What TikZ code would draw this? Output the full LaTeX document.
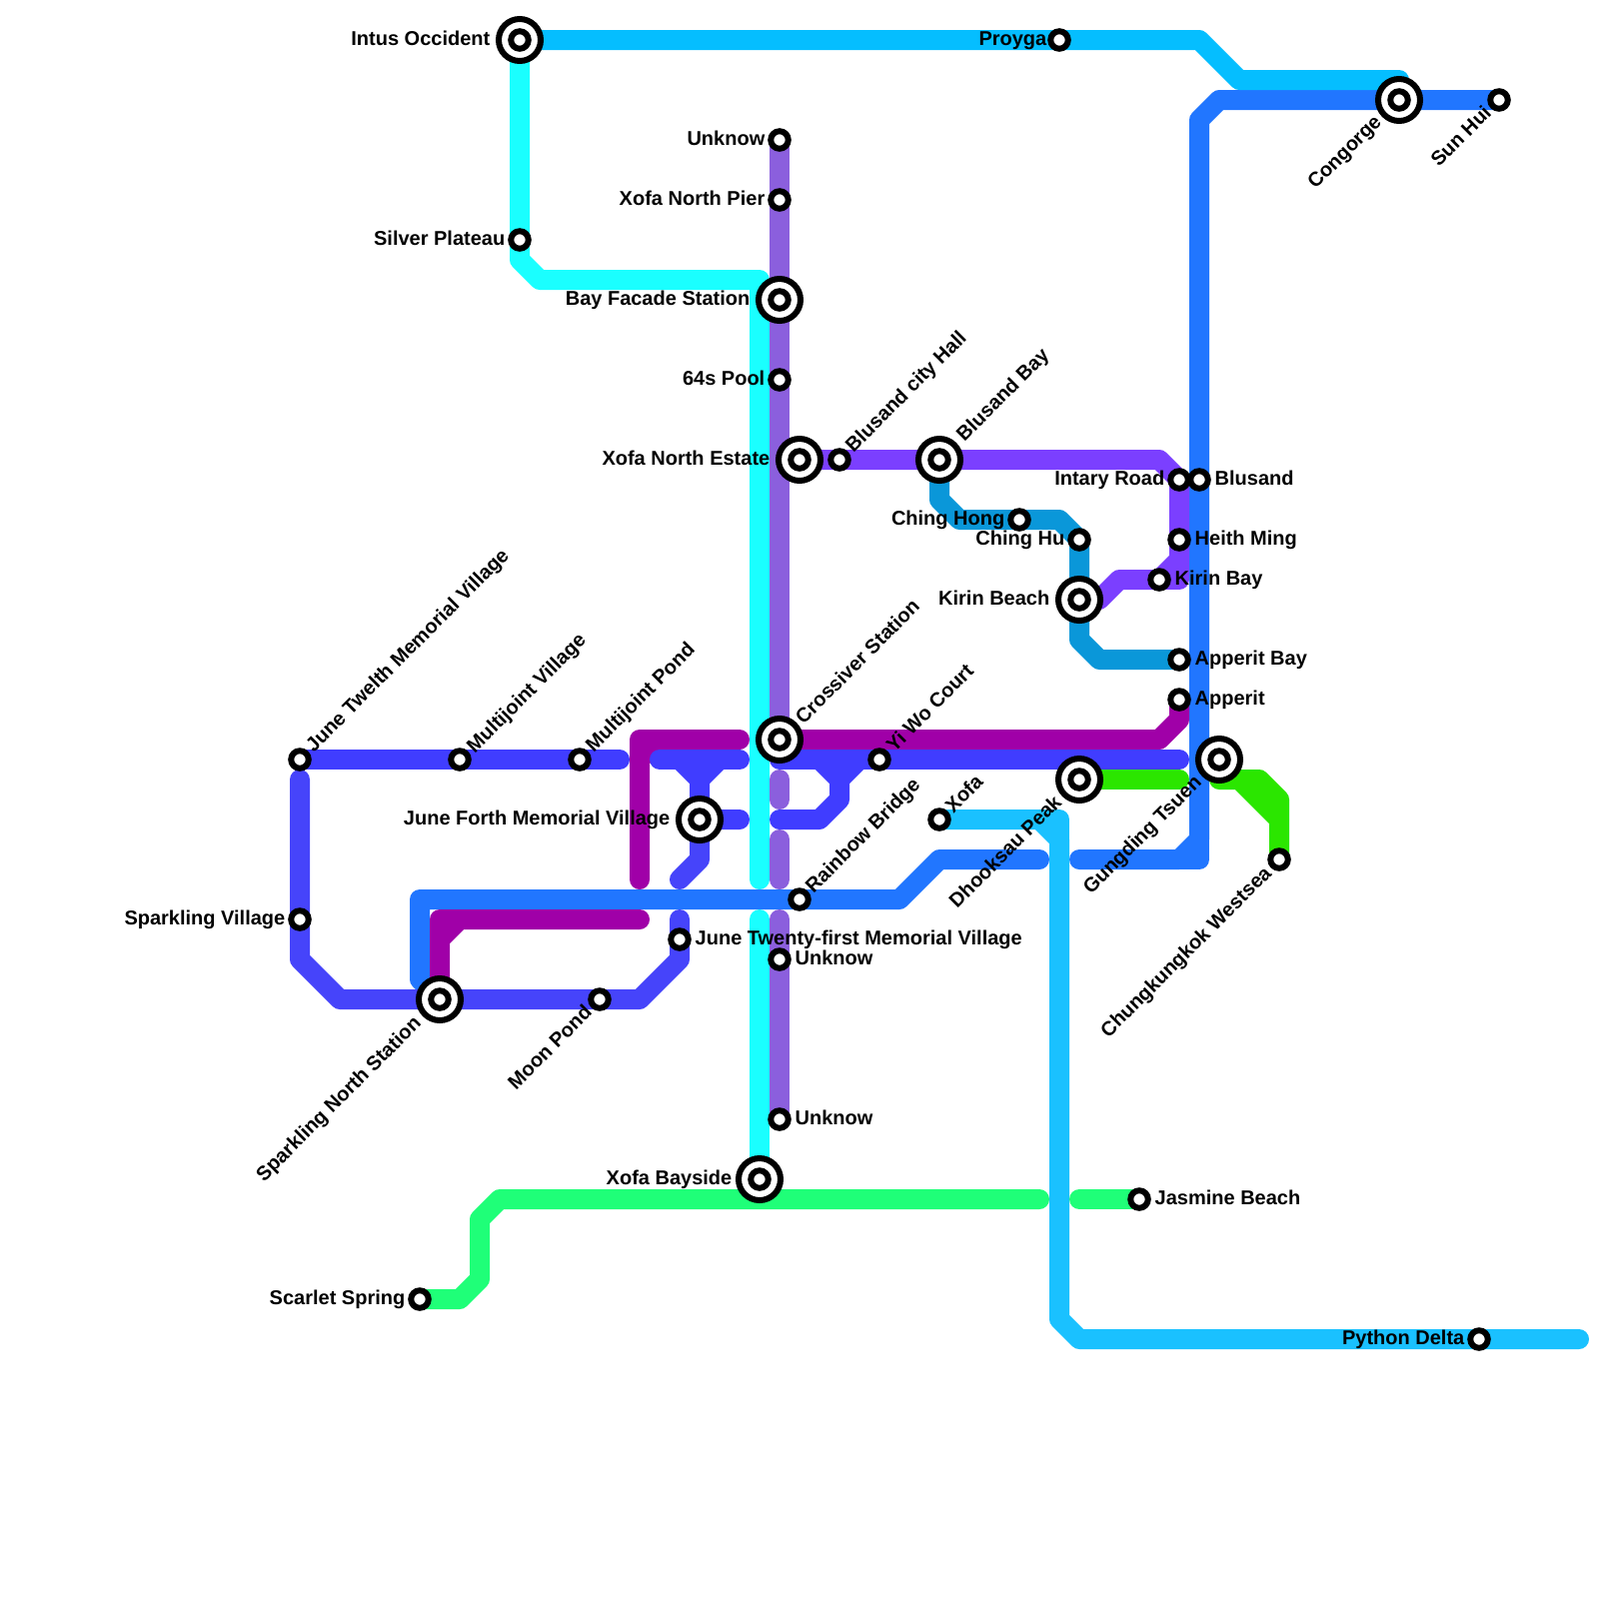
\documentclass[tikz,border=0pt]{standalone}
\usepackage{fontspec}
\setmainfont{Liberation Sans}
\usetikzlibrary{calc}
\pgfdeclarelayer{lines}
\pgfsetlayers{lines,main}
\definecolor{skyline}{HTML}{05BEFF}
\definecolor{cyanline}{HTML}{1AFFFF}
\definecolor{purpleline}{HTML}{8B5FDD}
\definecolor{violetline}{HTML}{7B3FFF}
\definecolor{blueline}{HTML}{2176FF}
\definecolor{indigoline}{HTML}{403DFF}
\definecolor{indigotwo}{HTML}{4644FA}
\definecolor{magentaline}{HTML}{A000A8}
\definecolor{tealline}{HTML}{0A97D9}
\definecolor{greenline}{HTML}{2BE600}
\definecolor{springline}{HTML}{1FFF78}
\definecolor{azureline}{HTML}{1AC1FF}

\begin{document}
\begin{tikzpicture}[
  x=.1mm, y=-.1mm,
  font=\fontsize{5.69}{7}\selectfont\bfseries,
  route/.style={line width=2mm, line cap=round, line join=round},
  stop/.style={circle, draw=black, fill=white, line width=.6mm, minimum size=1.75mm, inner sep=0pt},
  hub/.style={circle, draw=black, fill=white, line width=.6mm, minimum size=4.2mm, inner sep=0pt, label={[stop]center:}},
  lbl/.style={inner sep=0pt, text height=1.45mm, text depth=.4mm},
  lleft/.style={lbl, anchor=east},
  lright/.style={lbl, anchor=west},
  lup/.style={lbl, anchor=west, rotate=45},
  ldown/.style={lbl, anchor=east, rotate=45}
]
\useasboundingbox (0,0) rectangle (1600,1600);

% Stations
\node[hub] (intus) at (520,40) {};
\node[stop] (proyga) at (1060,40) {};
\node[stop] (unknowA) at (780,140) {};
\node[stop] (northPier) at (780,200) {};
\node[stop] (silver) at (520,240) {};
\node[hub] (bayFacade) at (780,300) {};
\node[stop] (pool) at (780,380) {};
\node[hub] (northEstate) at (800,460) {};
\node[stop] (cityHall) at (840,460) {};
\node[hub] (blusandBay) at (940,460) {};
\node[stop] (intary) at (1180,480) {};
\node[stop] (blusand) at (1200,480) {};
\node[stop] (chingHong) at (1020,520) {};
\node[stop] (chingHu) at (1080,540) {};
\node[stop] (heith) at (1180,540) {};
\node[stop] (kirinBay) at (1160,580) {};
\node[hub] (kirinBeach) at (1080,600) {};
\node[stop] (apperitBay) at (1180,660) {};
\node[stop] (apperit) at (1180,700) {};
\node[hub] (crossiver) at (780,740) {};
\node[stop] (juneTwelth) at (300,760) {};
\node[stop] (multiVillage) at (460,760) {};
\node[stop] (multiPond) at (580,760) {};
\node[stop] (yiWo) at (880,760) {};
\node[hub] (gungding) at (1220,760) {};
\node[hub] (dhooksau) at (1080,780) {};
\node[hub] (juneForth) at (700,820) {};
\node[stop] (xofa) at (940,820) {};
\node[stop] (westsea) at (1280,860) {};
\node[stop] (rainbow) at (800,900) {};
\node[stop] (sparkling) at (300,920) {};
\node[stop] (juneTwenty) at (680,940) {};
\node[stop] (unknowB) at (780,960) {};
\node[hub] (sparklingNorth) at (440,1000) {};
\node[stop] (moonPond) at (600,1000) {};
\node[stop] (unknowC) at (780,1120) {};
\node[hub] (bayside) at (760,1180) {};
\node[stop] (jasmine) at (1140,1200) {};
\node[stop] (scarlet) at (420,1300) {};
\node[stop] (python) at (1480,1340) {};
\node[hub] (congorge) at (1400,100) {};
\node[stop] (sunHui) at (1500,100) {};

% Free line ends
\coordinate (cyanA) at (760,880);
\coordinate (cyanB) at (760,920);
\coordinate (purpleA) at (780,780);
\coordinate (purpleB) at (780,800);
\coordinate (purpleC) at (780,840);
\coordinate (purpleD) at (780,880);
\coordinate (purpleE) at (780,920);
\coordinate (blueA) at (1080,860);
\coordinate (blueB) at (1040,860);
\coordinate (magentaA) at (740,740);
\coordinate (magentaB) at (640,880);
\coordinate (magentaC) at (640,920);
\coordinate (indigoA) at (620,760);
\coordinate (indigoB) at (300,780);
\coordinate (indigoC) at (680,920);
\coordinate (indigoD) at (680,880);
\coordinate (indigoE) at (660,760);
\coordinate (indigoF) at (740,760);
\coordinate (indigoG) at (740,820);
\coordinate (indigoH) at (780,820);
\coordinate (indigoI) at (780,760);
\coordinate (indigoJ) at (1180,760);
\coordinate (greenA) at (1180,780);
\coordinate (greenB) at (1220,780);
\coordinate (azureEnd) at (1580,1340);
\coordinate (springA) at (1040,1200);
\coordinate (springB) at (1080,1200);

% Lines
\begin{pgfonlayer}{lines}
\draw[route, blueline] (sunHui.center) -- (1220,100) -- (1200,120) -- (1200,840) -- (1180,860) -- (blueA);
\draw[route, blueline] (1200,840) -- (1200,860) -- (1180,860);
\draw[route, blueline] (blueB) -- (940,860) -- (900,900) -- (420,900) -- (420,980) -- (sparklingNorth.center);
\draw[route, skyline] (intus.center) -- (1200,40) -- (1240,80) -- (1400,80) -- (congorge.center);
\draw[route, cyanline] (intus.center) -- (520,260) -- (540,280) -- (760,280) -- (cyanA);
\draw[route, cyanline] (cyanB) -- (bayside.center);
\draw[route, purpleline] (unknowA.center) -- (crossiver.center);
\draw[route, purpleline] (purpleA) -- (purpleB);
\draw[route, purpleline] (purpleC) -- (purpleD);
\draw[route, purpleline] (purpleE) -- (unknowC.center);
\draw[route, violetline] (northEstate.center) -- (1160,460) -- (1180,480) -- (1180,560) -- (kirinBay.center) -- (1120,580) -- (1100,600) -- (kirinBeach.center);
\draw[route, violetline] (1180,560) -- (1180,580) -- (kirinBay.center);
\draw[route, tealline] (blusandBay.center) -- (940,500) -- (960,520) -- (1060,520) -- (chingHu.center) -- (1080,640) -- (1100,660) -- (apperitBay.center);
\draw[route, magentaline] (crossiver.center) -- (1160,740) -- (1180,720) -- (apperit.center);
\draw[route, magentaline] (magentaA) -- (660,740) -- (640,760) -- (magentaB);
\draw[route, magentaline] (660,740) -- (640,740) -- (640,760);
\draw[route, magentaline] (magentaC) -- (460,920) -- (440,940) -- (sparklingNorth.center);
\draw[route, magentaline] (460,920) -- (440,920) -- (440,940);
\draw[route, indigoline] (juneTwelth.center) -- (indigoA);
\draw[route, indigotwo] (indigoB) -- (300,960) -- (340,1000) -- (640,1000) -- (680,960) -- (indigoC);
\draw[route, indigotwo] (indigoD) -- (700,860) -- (juneForth.center);
\draw[route, indigoline] (indigoE) -- (indigoF);
\draw[route, indigoline] (680,760) -- (700,780) -- (juneForth.center) -- (indigoG);
\draw[route, indigoline] (720,760) -- (700,780);
\draw[route, indigoline] (indigoI) -- (indigoJ);
\draw[route, indigoline] (820,760) -- (840,780) -- (840,800) -- (820,820) -- (indigoH);
\draw[route, indigoline] (860,760) -- (840,780);
\draw[route, greenline] (dhooksau.center) -- (greenA);
\draw[route, greenline] (greenB) -- (1240,780) -- (1280,820) -- (westsea.center);
\draw[route, greenline] (1240,780) -- (1260,780) -- (1280,800) -- (1280,820);
\draw[route, azureline] (xofa.center) -- (1040,820) -- (1060,840) -- (1060,1320) -- (1080,1340) -- (azureEnd);
\draw[route, azureline] (1040,820) -- (1060,820) -- (1060,840);
\draw[route, springline] (scarlet.center) -- (460,1300) -- (480,1280) -- (480,1220) -- (500,1200) -- (springA);
\draw[route, springline] (springB) -- (jasmine.center);
\end{pgfonlayer}

% Station names
\node[lleft] (intusT) at (491,40) {Intus Occident};
\node[lleft] (proygaT) at (1048,40) {Proyga};
\node[lleft] (unknowAT) at (766,140) {Unknow};
\node[lleft] (northPierT) at (766,200) {Xofa North Pier};
\node[lleft] (silverT) at (506,240) {Silver Plateau};
\node[lleft] (bayFacadeT) at (751,300) {Bay Facade Station};
\node[lleft] (poolT) at (766,380) {64s Pool};
\node[lleft] (northEstateT) at (771,460) {Xofa North Estate};
\node[lleft] (intaryT) at (1166,480) {Intary Road};
\node[lleft] (chingHongT) at (1006,520) {Ching Hong};
\node[lleft] (chingHuT) at (1066,540) {Ching Hu};
\node[lleft] (kirinBeachT) at (1051,600) {Kirin Beach};
\node[lleft] (juneForthT) at (671,820) {June Forth Memorial Village};
\node[lleft] (sparklingT) at (286,920) {Sparkling Village};
\node[lleft] (baysideT) at (733,1180) {Xofa Bayside};
\node[lleft] (scarletT) at (406,1300) {Scarlet Spring};
\node[lleft] (pythonT) at (1466,1340) {Python Delta};
\node[lright] (blusandT) at (1215,480) {Blusand};
\node[lright] (heithT) at (1195,540) {Heith Ming};
\node[lright] (kirinBayT) at (1175,580) {Kirin Bay};
\node[lright] (apperitBayT) at (1195,660) {Apperit Bay};
\node[lright] (apperitT) at (1195,700) {Apperit};
\node[lright] (juneTwentyT) at (695,940) {June Twenty-first Memorial Village};
\node[lright] (unknowBT) at (795,960) {Unknow};
\node[lright] (unknowCT) at (795,1120) {Unknow};
\node[lright] (jasmineT) at (1155,1200) {Jasmine Beach};
\node[lup] (juneTwelthT) at (310,750) {June Twelth Memorial Village};
\node[lup] (multiVillageT) at (471,751) {Multijoint Village};
\node[lup] (multiPondT) at (590,750) {Multijoint Pond};
\node[lup] (cityHallT) at (850,450) {Blusand city Hall};
\node[lup] (blusandBayT) at (961,439) {Blusand Bay};
\node[lup] (crossiverT) at (800,722) {Crossiver Station};
\node[lup] (yiWoT) at (891,750) {Yi Wo Court};
\node[lup] (rainbowT) at (810,891) {Rainbow Bridge};
\node[lup] (xofaT) at (950,811) {Xofa};
\node[ldown] (congorgeT) at (1380,119) {Congorge};
\node[ldown] (sunHuiT) at (1490,110) {Sun Hui};
\node[ldown] (dhooksauT) at (1060,800) {Dhooksau Peak};
\node[ldown] (gungdingT) at (1200,780) {Gungding Tsuen};
\node[ldown] (westseaT) at (1270,871) {Chungkungkok Westsea};
\node[ldown] (sparklingNorthT) at (419,1021) {Sparkling North Station};
\node[ldown] (moonPondT) at (590,1010) {Moon Pond};
\end{tikzpicture}
\end{document}
